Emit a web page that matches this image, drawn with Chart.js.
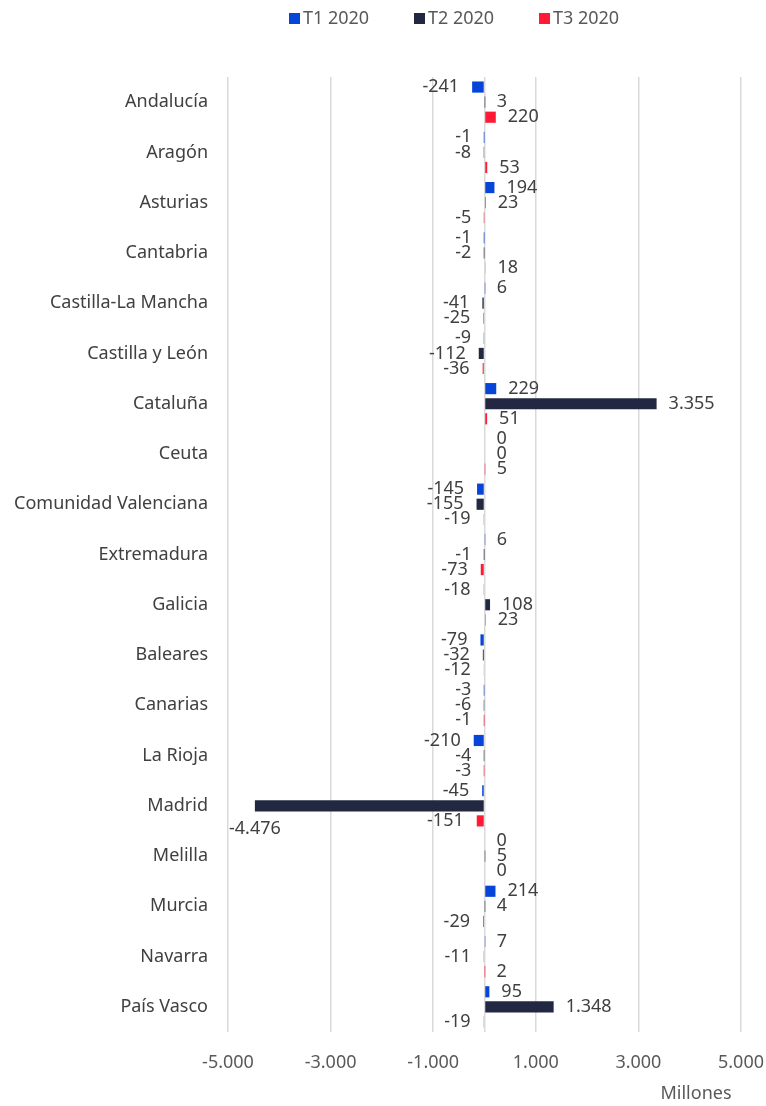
<!DOCTYPE html>
<html>
<head>
<meta charset="utf-8">
<script src="https://cdn.jsdelivr.net/npm/chart.js@4.4.1/dist/chart.umd.min.js"></script>
<style>
  html, body { margin: 0; padding: 0; background: #fff; }
  #wrap { width: 766px; height: 1106px; position: relative; }
</style>
</head>
<body>
<div id="wrap"><canvas id="chart"></canvas></div>
<script>
const regions = [
  'Andalucía', 'Aragón', 'Asturias', 'Cantabria', 'Castilla-La Mancha',
  'Castilla y León', 'Cataluña', 'Ceuta', 'Comunidad Valenciana', 'Extremadura',
  'Galicia', 'Baleares', 'Canarias', 'La Rioja', 'Madrid',
  'Melilla', 'Murcia', 'Navarra', 'País Vasco'
];
const t1 = [-241, -1, 194, -1, 6, -9, 229, 0, -145, 6, -18, -79, -3, -210, -45, 0, 214, 7, 95];
const t2 = [3, -8, 23, -2, -41, -112, 3355, 0, -155, -1, 108, -32, -6, -4, -4476, 5, 4, -11, 1348];
const t3 = [220, 53, -5, 18, -25, -36, 51, 5, -19, -73, 23, -12, -1, -3, -151, 0, -29, 2, -19];
const xTicks = [-5000, -3000, -1000, 0, 1000, 3000, 5000];
const seriesNames = ['T1 2020', 'T2 2020', 'T3 2020'];
const seriesColors = ['#0645d8', '#222841', '#ff1a36'];

const FONT = '"Noto Sans", sans-serif';
const TEXT = '#404040';
const SIZE = 18;

function fmt(v) {
  const s = Math.abs(v).toString().replace(/\B(?=(\d{3})+(?!\d))/g, '.');
  return (v < 0 ? '-' : '') + s;
}

const labelPlugin = {
  id: 'barLabels',
  afterDatasetsDraw(chart) {
    const ctx = chart.ctx;
    const area = chart.chartArea;
    ctx.save();
    ctx.font = SIZE + 'px ' + FONT;
    ctx.fillStyle = TEXT;
    ctx.textBaseline = 'middle';
    chart.data.datasets.forEach((ds, di) => {
      chart.getDatasetMeta(di).data.forEach((el, i) => {
        const v = ds.data[i];
        const txt = fmt(v);
        const w = ctx.measureText(txt).width;
        if (v < 0) {
          if (el.x - 13 - w < area.left) {
            ctx.textAlign = 'center';
            ctx.fillText(txt, el.x, el.y + 23);
          } else {
            ctx.textAlign = 'right';
            ctx.fillText(txt, el.x - 13, el.y);
          }
        } else {
          ctx.textAlign = 'left';
          ctx.fillText(txt, el.x + 12, el.y);
        }
      });
    });
    ctx.restore();
  }
};

const legendPlugin = {
  id: 'topLegend',
  afterDraw(chart) {
    const ctx = chart.ctx;
    ctx.save();
    ctx.font = SIZE + 'px ' + FONT;
    ctx.textBaseline = 'middle';
    ctx.textAlign = 'left';
    const starts = [289, 414, 539];
    chart.data.datasets.forEach((ds, i) => {
      ctx.fillStyle = ds.backgroundColor;
      ctx.fillRect(starts[i], 13, 11, 11);
      ctx.fillStyle = '#595959';
      ctx.fillText(ds.label, starts[i] + 14, 19);
    });
    ctx.fillStyle = '#595959';
    ctx.textAlign = 'center';
    ctx.fillText('Millones', 696, 1094);
    ctx.restore();
  }
};

new Chart(document.getElementById('chart'), {
  type: 'bar',
  data: {
    labels: regions,
    datasets: [t1, t2, t3].map((d, i) => ({
      label: seriesNames[i],
      data: d,
      backgroundColor: seriesColors[i],
      categoryPercentage: 0.9,
      barPercentage: 0.74
    }))
  },
  options: {
    indexAxis: 'y',
    responsive: true,
    maintainAspectRatio: false,
    animation: false,
    layout: { padding: { top: 77, right: 25, left: 0, bottom: 0 } },
    plugins: {
      legend: { display: false },
      tooltip: { enabled: false }
    },
    scales: {
      x: {
        min: -5000, max: 5000,
        afterBuildTicks: s => { s.ticks = xTicks.map(v => ({ value: v })); },
        afterFit: s => { s.height = 74; s.paddingRight = 0; s.paddingLeft = 0; },
        ticks: {
          color: '#595959',
          font: { family: FONT, size: SIZE },
          padding: 20,
          maxRotation: 0,
          callback: v => v === 0 ? '' : fmt(v)
        },
        grid: { color: '#d9d9d9', lineWidth: 1.5, drawTicks: false },
        border: { display: false }
      },
      y: {
        afterFit: s => { s.width = 228; },
        ticks: {
          color: TEXT,
          font: { family: FONT, size: SIZE },
          padding: 20
        },
        grid: { display: false, drawTicks: false },
        border: { display: false }
      }
    }
  },
  plugins: [labelPlugin, legendPlugin]
});
</script>
</body>
</html>
